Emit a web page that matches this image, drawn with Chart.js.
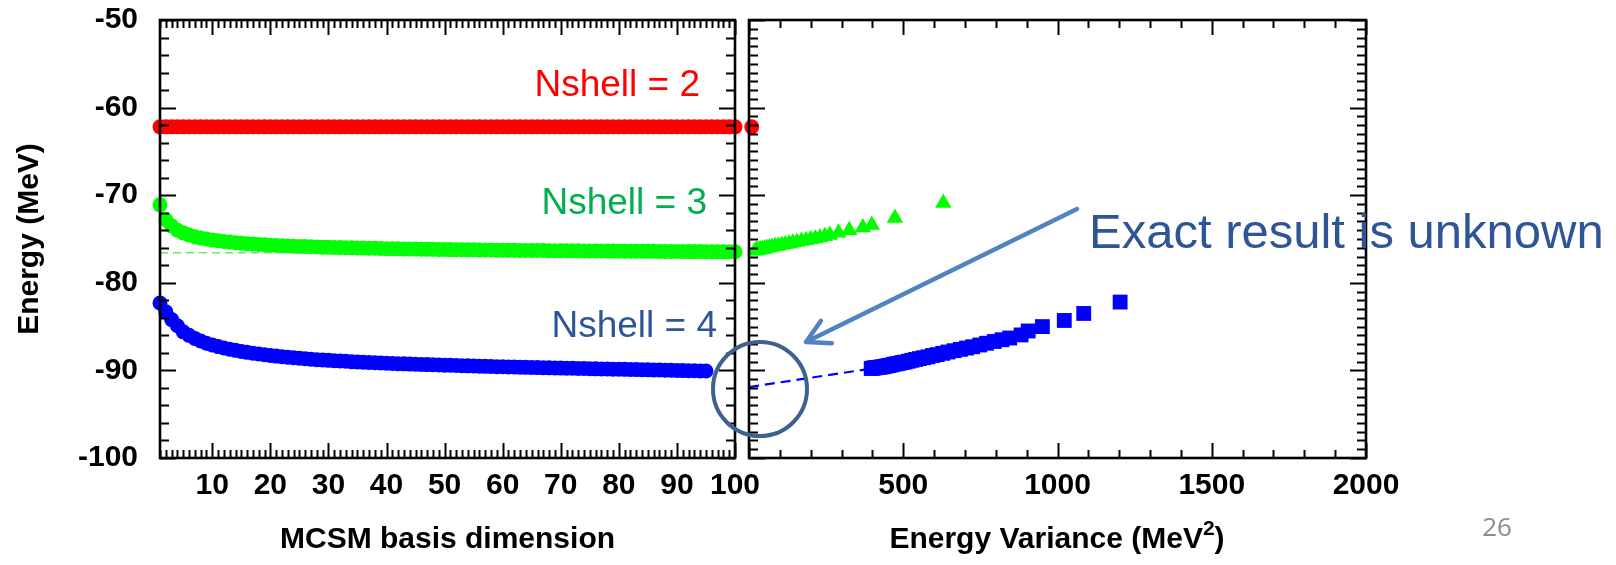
<!DOCTYPE html>
<html>
<head>
<meta charset="utf-8">
<script src="https://cdn.jsdelivr.net/npm/chart.js@4.4.1/dist/chart.umd.min.js"></script>
<style>
  html, body { margin: 0; padding: 0; background: #fff; }
  body { width: 1616px; height: 565px; position: relative; overflow: hidden; }
  canvas { position: absolute; top: 0; }
  #leftChart { left: 0; }
  #rightChart { left: 700px; }
</style>
</head>
<body>
<canvas id="leftChart" width="800" height="565"></canvas>
<canvas id="rightChart" width="916" height="565"></canvas>
<script>
/* ── data ── */
const basisDim = [
  1, 2, 3, 4, 5, 6, 7, 8, 9, 10, 11, 12, 13, 14, 15, 16, 17, 18, 19, 20,
  21, 22, 23, 24, 25, 26, 27, 28, 29, 30, 31, 32, 33, 34, 35, 36, 37, 38, 39, 40,
  41, 42, 43, 44, 45, 46, 47, 48, 49, 50, 51, 52, 53, 54, 55, 56, 57, 58, 59, 60,
  61, 62, 63, 64, 65, 66, 67, 68, 69, 70, 71, 72, 73, 74, 75, 76, 77, 78, 79, 80,
  81, 82, 83, 84, 85, 86, 87, 88, 89, 90, 91, 92, 93, 94, 95, 96, 97, 98, 99, 100
];

// Nshell = 2 (converged already)
const energyN2 = [
  -62.2, -62.2, -62.2, -62.2, -62.2, -62.2, -62.2, -62.2, -62.2, -62.2,
  -62.2, -62.2, -62.2, -62.2, -62.2, -62.2, -62.2, -62.2, -62.2, -62.2,
  -62.2, -62.2, -62.2, -62.2, -62.2, -62.2, -62.2, -62.2, -62.2, -62.2,
  -62.2, -62.2, -62.2, -62.2, -62.2, -62.2, -62.2, -62.2, -62.2, -62.2,
  -62.2, -62.2, -62.2, -62.2, -62.2, -62.2, -62.2, -62.2, -62.2, -62.2,
  -62.2, -62.2, -62.2, -62.2, -62.2, -62.2, -62.2, -62.2, -62.2, -62.2,
  -62.2, -62.2, -62.2, -62.2, -62.2, -62.2, -62.2, -62.2, -62.2, -62.2,
  -62.2, -62.2, -62.2, -62.2, -62.2, -62.2, -62.2, -62.2, -62.2, -62.2,
  -62.2, -62.2, -62.2, -62.2, -62.2, -62.2, -62.2, -62.2, -62.2, -62.2,
  -62.2, -62.2, -62.2, -62.2, -62.2, -62.2, -62.2, -62.2, -62.2, -62.2
];

// Nshell = 3
const energyN3 = [
  -71.1, -72.8, -73.5, -74.0, -74.3, -74.55, -74.75, -74.9, -75.0, -75.1,
  -75.2, -75.28, -75.35, -75.42, -75.48, -75.53, -75.58, -75.62, -75.66, -75.7,
  -75.73, -75.76, -75.79, -75.82, -75.85, -75.87, -75.89, -75.91, -75.93, -75.95,
  -75.97, -75.98, -76.0, -76.01, -76.03, -76.04, -76.05, -76.07, -76.08, -76.1,
  -76.11, -76.12, -76.13, -76.14, -76.15, -76.16, -76.17, -76.18, -76.19, -76.2,
  -76.21, -76.22, -76.22, -76.23, -76.24, -76.25, -76.25, -76.26, -76.27, -76.28,
  -76.28, -76.29, -76.3, -76.3, -76.31, -76.31, -76.32, -76.33, -76.33, -76.34,
  -76.34, -76.35, -76.35, -76.36, -76.36, -76.37, -76.37, -76.38, -76.38, -76.39,
  -76.39, -76.4, -76.4, -76.4, -76.41, -76.41, -76.42, -76.42, -76.42, -76.43,
  -76.43, -76.44, -76.44, -76.44, -76.45, -76.45, -76.45, -76.46, -76.46, -76.46
];

// Nshell = 4 (95 basis states)
const energyN4 = [
  -82.3, -83.3, -84.2, -84.9, -85.6, -86.0, -86.35, -86.65, -86.9, -87.1,
  -87.28, -87.44, -87.58, -87.71, -87.83, -87.94, -88.04, -88.13, -88.22, -88.3,
  -88.37, -88.44, -88.5, -88.56, -88.62, -88.67, -88.72, -88.77, -88.81, -88.85,
  -88.89, -88.93, -88.96, -89.0, -89.03, -89.06, -89.09, -89.12, -89.15, -89.18,
  -89.2, -89.23, -89.25, -89.28, -89.3, -89.32, -89.34, -89.36, -89.38, -89.4,
  -89.42, -89.44, -89.46, -89.48, -89.5, -89.52, -89.54, -89.56, -89.57, -89.59,
  -89.6, -89.62, -89.63, -89.65, -89.66, -89.68, -89.69, -89.71, -89.72, -89.74,
  -89.75, -89.76, -89.78, -89.79, -89.8, -89.82, -89.83, -89.84, -89.86, -89.87,
  -89.88, -89.9, -89.91, -89.92, -89.94, -89.95, -89.96, -89.98, -89.99, -90.0,
  -90.02, -90.03, -90.04, -90.06, -90.07
];

// extrapolated Nshell = 3 value (dashed guide)
const guideN3Dim = [1, 100];
const guideN3Energy = [-76.57, -76.57];

// energy vs. energy variance
const varN2 = [9];
const varEnergyN2 = [-62.2];

const varN3 = [630, 473, 398, 369, 325, 290, 262, 246, 230, 215, 200, 185, 170, 155, 142,
               130, 118, 106, 95, 85, 75, 66, 58, 50, 44, 38, 33, 28, 24, 20];
const varEnergyN3 = [-70.9, -72.6, -73.4, -73.7, -74.0, -74.3, -74.55, -74.7, -74.82, -74.93,
                     -75.03, -75.13, -75.23, -75.33, -75.42, -75.5, -75.6, -75.68, -75.76, -75.84,
                     -75.91, -75.98, -76.04, -76.1, -76.15, -76.2, -76.24, -76.27, -76.3, -76.33];

const varN4 = [1203, 1085, 1022, 951, 905, 882, 845, 820, 795, 770, 748, 725, 705, 685, 665,
               645, 628, 610, 595, 580, 566, 552, 540, 528, 517, 506, 496, 486, 477, 468,
               460, 452, 445, 438, 432, 426, 420, 415, 410, 405, 400, 396];
const varEnergyN4 = [-82.2, -83.5, -84.3, -85.0, -85.5, -85.95, -86.3, -86.5, -86.7, -86.9,
                     -87.1, -87.3, -87.45, -87.6, -87.75, -87.9, -88.05, -88.2, -88.3, -88.45,
                     -88.55, -88.65, -88.75, -88.85, -88.95, -89.05, -89.1, -89.2, -89.25, -89.3,
                     -89.4, -89.45, -89.5, -89.55, -89.6, -89.62, -89.65, -89.68, -89.7, -89.72,
                     -89.75, -89.78];

// linear extrapolation to zero variance
const fitN4Var = [0, 400];
const fitN4Energy = [-91.9, -89.78];
const fitN3Var = [0, 20];
const fitN3Energy = [-76.57, -76.33];

const energyTicks = [-100, -90, -80, -70, -60, -50];
const dimTicks = [10, 20, 30, 40, 50, 60, 70, 80, 90, 100];
const varTicks = [500, 1000, 1500, 2000];

/* ── helpers ── */
const pairs = (xs, ys) => ys.map((y, i) => ({ x: xs[i], y }));
const FONT = 'Liberation Sans, Arial, Helvetica, sans-serif';
const bold = size => ({ family: FONT, size, weight: 'bold' });

const RED = '#ff0000', GREEN = '#00ff00', BLUE = '#0000ff';

// inward ticks on all four sides + black frame
const frameTicks = {
  id: 'frameTicks',
  afterDatasetsDraw(chart, args, o) {
    const { ctx, chartArea: a, scales: { x, y } } = chart;
    ctx.save();
    ctx.strokeStyle = '#000';
    ctx.lineWidth = 2;
    ctx.beginPath();
    for (let v = x.min; v <= x.max + 1e-6; v += o.xMinor) {
      const px = Math.round(x.getPixelForValue(v)) + 0.5;
      const len = Math.abs(Math.round(v / o.xMajor) * o.xMajor - v) < 1e-6 ? 15 : 8;
      ctx.moveTo(px, a.bottom); ctx.lineTo(px, a.bottom - len);
      ctx.moveTo(px, a.top); ctx.lineTo(px, a.top + len);
    }
    for (let v = y.min; v <= y.max + 1e-6; v += o.yMinor) {
      const py = Math.round(y.getPixelForValue(v)) + 0.5;
      const len = Math.abs(Math.round(v / o.yMajor) * o.yMajor - v) < 1e-6 ? 16 : 9;
      ctx.moveTo(a.left, py); ctx.lineTo(a.left + len, py);
      ctx.moveTo(a.right, py); ctx.lineTo(a.right - len, py);
    }
    ctx.stroke();
    ctx.lineWidth = 2.6;
    ctx.strokeRect(a.left, a.top, a.right - a.left, a.bottom - a.top);
    ctx.restore();
  }
};

// free text / shapes in canvas pixels
const notes = {
  id: 'notes',
  afterDraw(chart, args, o) {
    const ctx = chart.ctx;
    ctx.save();
    ctx.textBaseline = 'middle';
    (o.texts || []).forEach(t => {
      ctx.font = t.font;
      ctx.fillStyle = t.color;
      ctx.textAlign = t.align || 'left';
      ctx.fillText(t.text, t.x, t.y);
    });
    // text made of runs (used for the superscript in the axis title)
    (o.rich || []).forEach(r => {
      ctx.fillStyle = r.color;
      ctx.textAlign = 'left';
      let total = 0;
      r.runs.forEach(run => { ctx.font = run.font; total += ctx.measureText(run.text).width; });
      let cx = r.x - total / 2;
      r.runs.forEach(run => {
        ctx.font = run.font;
        ctx.fillText(run.text, cx, r.y + (run.dy || 0));
        cx += ctx.measureText(run.text).width;
      });
    });
    if (o.circle) {
      const c = o.circle;
      ctx.strokeStyle = c.color;
      ctx.lineWidth = c.width;
      ctx.beginPath();
      ctx.arc(c.x, c.y, c.r, 0, Math.PI * 2);
      ctx.stroke();
    }
    if (o.arrow) {
      const ar = o.arrow;
      const ang = Math.atan2(ar.y2 - ar.y1, ar.x2 - ar.x1);
      ctx.strokeStyle = ar.color;
      ctx.lineWidth = ar.width;
      ctx.lineCap = 'round';
      ctx.lineJoin = 'round';
      ctx.beginPath();
      ctx.moveTo(ar.x1, ar.y1);
      ctx.lineTo(ar.x2, ar.y2);
      ctx.moveTo(ar.x2 - ar.head * Math.cos(ang - 0.5), ar.y2 - ar.head * Math.sin(ang - 0.5));
      ctx.lineTo(ar.x2, ar.y2);
      ctx.lineTo(ar.x2 - ar.head * Math.cos(ang + 0.5), ar.y2 - ar.head * Math.sin(ang + 0.5));
      ctx.stroke();
    }
    ctx.restore();
  }
};

const pointSet = (label, data, color, style, radius) => ({
  label, data, showLine: false, clip: false,
  pointStyle: style, pointRadius: radius, pointHoverRadius: radius,
  pointBackgroundColor: color, pointBorderWidth: 0, borderColor: color, backgroundColor: color,
});

const dashSet = (label, data, color, width, dash) => ({
  type: 'line', label, data, showLine: true, clip: false,
  borderColor: color, borderWidth: width, borderDash: dash, pointRadius: 0, fill: false,
});

const yScale = (width, showLabels, title) => ({
  type: 'linear', min: -100, max: -50,
  afterBuildTicks: s => { s.ticks = energyTicks.map(v => ({ value: v })); },
  afterFit: s => { s.width = width; s.paddingTop = 0; s.paddingBottom = 0; },
  grid: { display: false, drawTicks: false },
  border: { display: false },
  ticks: { display: showLabels, padding: 22, color: '#000', font: bold(30), callback: v => String(v) },
  title: title ? { display: true, text: title, color: '#000', font: bold(30), padding: { top: 12 } } : { display: false },
});

const xScale = (min, max, ticks, title) => ({
  type: 'linear', min, max,
  afterBuildTicks: s => { s.ticks = ticks.map(v => ({ value: v })); },
  afterFit: s => { s.height = 107; s.paddingLeft = 0; s.paddingRight = 0; },
  grid: { display: false, drawTicks: false },
  border: { display: false },
  ticks: { autoSkip: false, maxRotation: 0, padding: 10, color: '#000', font: bold(30), callback: v => String(v) },
  title: title ? { display: true, text: title, color: '#000', font: bold(30), padding: { bottom: 7 } } : { display: false },
});

Chart.defaults.font.family = FONT;

/* ── left panel: energy vs basis dimension ── */
new Chart(document.getElementById('leftChart'), {
  type: 'scatter',
  data: {
    datasets: [
      dashSet('N3 extrapolated', pairs(guideN3Dim, guideN3Energy), 'rgba(60,225,60,0.75)', 1.6, [8, 5]),
      pointSet('Nshell = 2', pairs(basisDim, energyN2), RED, 'circle', 7.5),
      pointSet('Nshell = 3', pairs(basisDim, energyN3), GREEN, 'circle', 7.5),
      pointSet('Nshell = 4', pairs(basisDim, energyN4), BLUE, 'circle', 7.5),
    ],
  },
  options: {
    responsive: false, animation: false, events: [],
    layout: { padding: { left: 0, top: 20, right: 65, bottom: 0 } },
    plugins: {
      legend: { display: false }, tooltip: { enabled: false },
      frameTicks: { xMinor: 1, xMajor: 10, yMinor: 2, yMajor: 10 },
      notes: {
        texts: [
          { text: 'Nshell = 2', x: 700, y: 86, align: 'right', color: '#ff0000', font: `37px ${FONT}` },
          { text: 'Nshell = 3', x: 707, y: 204, align: 'right', color: '#00b050', font: `37px ${FONT}` },
          { text: 'Nshell = 4', x: 717, y: 327, align: 'right', color: '#2f5597', font: `37px ${FONT}` },
        ],
      },
    },
    scales: {
      x: xScale(1, 100, dimTicks, 'MCSM basis dimension'),
      y: yScale(160, true, 'Energy (MeV)'),
    },
  },
  plugins: [frameTicks, notes],
});

/* ── right panel: energy vs energy variance ── */
new Chart(document.getElementById('rightChart'), {
  type: 'scatter',
  data: {
    datasets: [
      dashSet('N3 fit', pairs(fitN3Var, fitN3Energy), 'rgba(60,225,60,0.75)', 1.6, [8, 5]),
      dashSet('N4 fit', pairs(fitN4Var, fitN4Energy), BLUE, 2.2, [10, 6]),
      pointSet('Nshell = 2', pairs(varN2, varEnergyN2), RED, 'circle', 7.5),
      pointSet('Nshell = 3', pairs(varN3, varEnergyN3), GREEN, 'triangle', 9.5),
      pointSet('Nshell = 4', pairs(varN4, varEnergyN4), BLUE, 'rect', 10.5),
    ],
  },
  options: {
    responsive: false, animation: false, events: [],
    layout: { padding: { left: 0, top: 20, right: 250, bottom: 0 } },
    plugins: {
      legend: { display: false }, tooltip: { enabled: false },
      frameTicks: { xMinor: 100, xMajor: 500, yMinor: 1, yMajor: 10 },
      notes: {
        texts: [
          { text: 'Exact result is unknown', x: 389, y: 234, color: '#2f5597', font: `49px ${FONT}` },
          { text: '26', x: 797, y: 529, align: 'center', color: '#8c8c8c', font: `26px "Open Sans", sans-serif` },
        ],
        rich: [
          { x: 357, y: 540, color: '#000', runs: [
            { text: 'Energy Variance (MeV', font: `bold 30px ${FONT}` },
            { text: '2', font: `bold 21px ${FONT}`, dy: -11 },
            { text: ')', font: `bold 30px ${FONT}` },
          ] },
        ],
        circle: { x: 60, y: 389, r: 47, width: 4, color: '#3f618e' },
        arrow: { x1: 377, y1: 209, x2: 106, y2: 342, head: 26, width: 4.5, color: '#5282bf' },
      },
    },
    scales: {
      x: xScale(0, 2000, varTicks, null),
      y: yScale(49, false, null),
    },
  },
  plugins: [frameTicks, notes],
});
</script>
</body>
</html>
